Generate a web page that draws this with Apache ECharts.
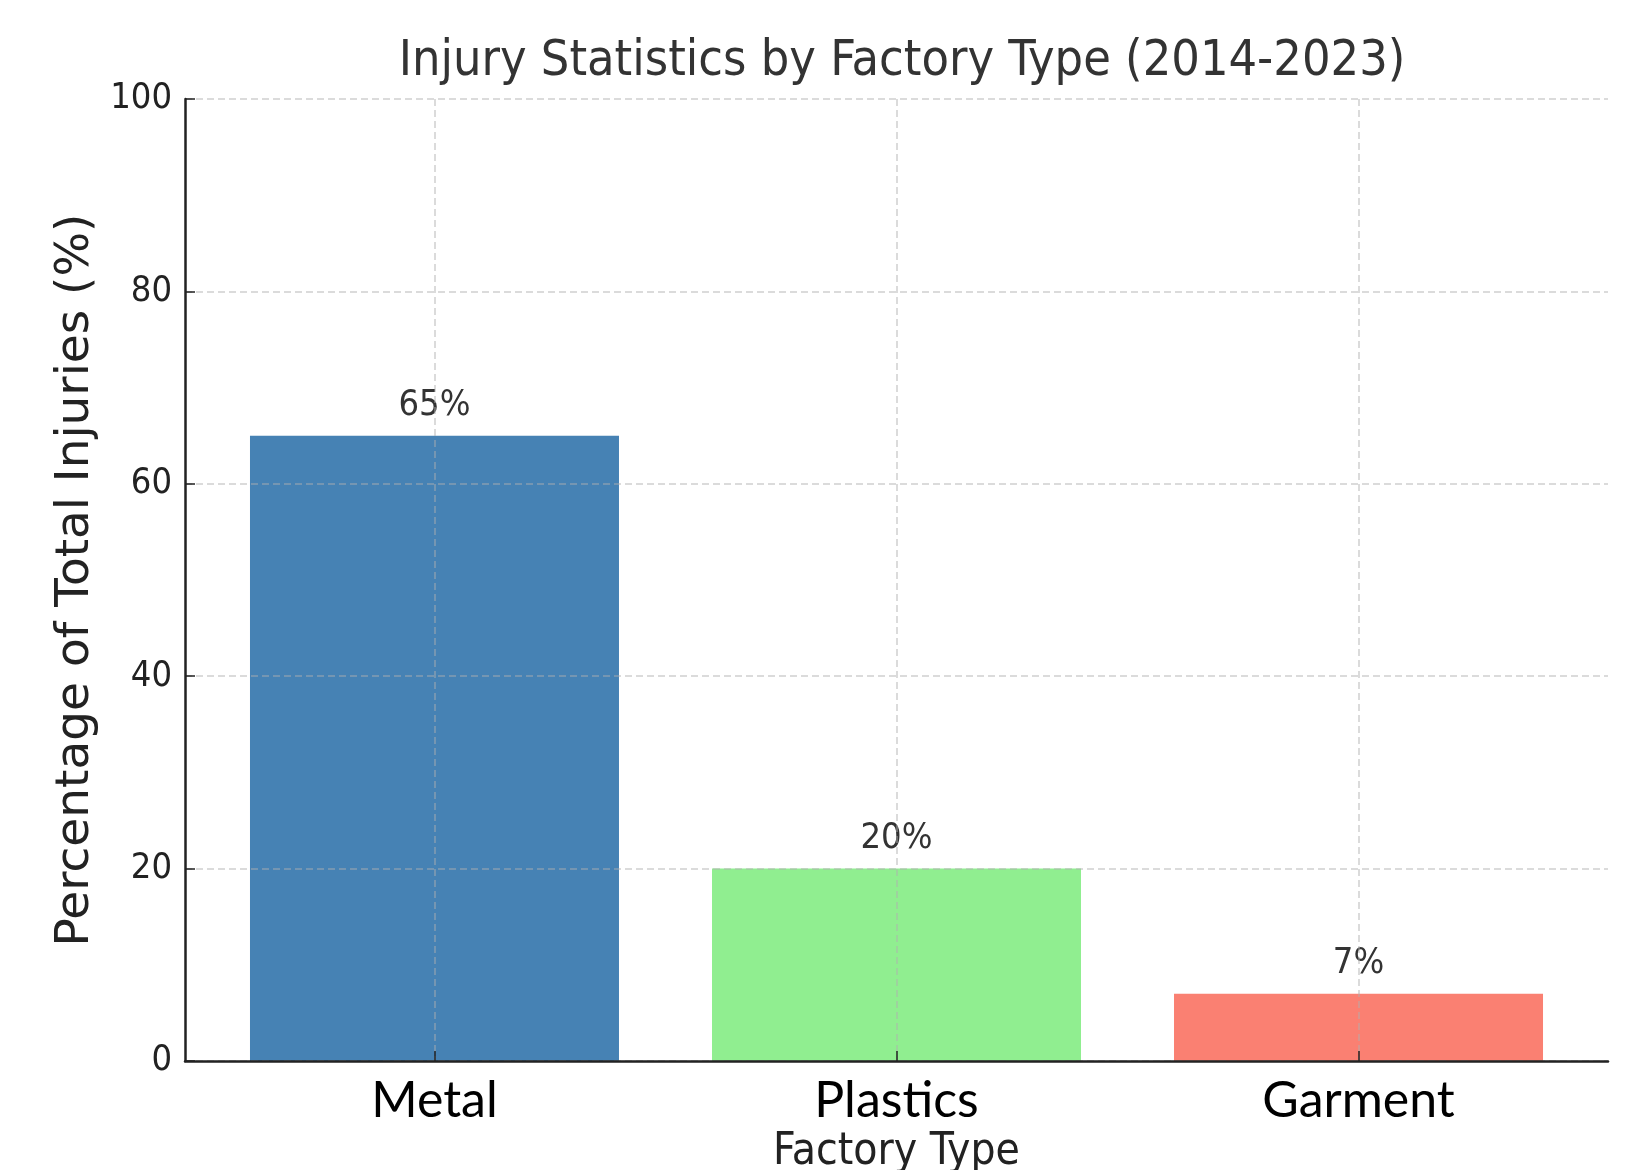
<!DOCTYPE html>
<html>
<head>
<meta charset="utf-8">
<script src="https://cdn.jsdelivr.net/npm/echarts@6/dist/echarts.min.js"></script>
<style>
  html, body { margin: 0; padding: 0; background: #fff; }
  #chart { width: 1627px; height: 1170px; }
</style>
</head>
<body>
<div id="chart"></div>
<script>
const factoryTypes = ['Metal', 'Plastics', 'Garment'];
const injuryShare = [65, 20, 7];
const barColors = ['#4682B4', '#90EE90', '#FA8072'];
const yTicks = [0, 20, 40, 60, 80, 100];

const gridLine = {
    show: true,
    lineStyle: { color: 'rgba(175,175,175,0.6)', width: 1.5, type: [7, 4] }
};

echarts.init(document.getElementById('chart'))
    .setOption({
        animation: false,
        title: {
            text: 'Injury Statistics by Factory Type (2014-2023)',
            left: 897,
            textAlign: 'center',
            top: 32,
            textStyle: {
                fontFamily: 'DejaVu Sans Condensed',
                fontWeight: 'normal',
                fontSize: 50,
                color: '#333'
            }
        },
        grid: {
            left: 185,
            right: 19,
            top: 99,
            bottom: 109,
            outerBoundsMode: 'none'
        },
        xAxis: {
            type: 'value',
            min: -0.54,
            max: 2.54,
            z: 3,
            name: 'Factory Type',
            nameLocation: 'middle',
            nameGap: 57,
            nameTextStyle: {
                fontFamily: 'DejaVu Sans Condensed',
                fontSize: 44,
                color: '#222'
            },
            axisLine: { onZero: false, lineStyle: { color: '#222', width: 2.5 } },
            axisTick: {
                inside: true,
                length: 10,
                customValues: [0, 1, 2],
                lineStyle: { color: '#222', width: 1.5 }
            },
            axisLabel: {
                customValues: [0, 1, 2],
                margin: 15,
                fontFamily: 'Lato',
                fontSize: 50,
                color: '#000',
                formatter: v => factoryTypes[Math.round(v)]
            },
            splitLine: gridLine
        },
        yAxis: {
            type: 'value',
            min: 0,
            max: 100,
            interval: 20,
            z: 3,
            name: 'Percentage of Total Injuries (%)',
            nameLocation: 'middle',
            nameGap: 81,
            nameTextStyle: {
                fontFamily: 'DejaVu Sans',
                fontSize: 47,
                color: '#222'
            },
            axisLine: { show: true, onZero: false, lineStyle: { color: '#222', width: 2.5 } },
            axisTick: {
                show: true,
                inside: true,
                length: 10,
                lineStyle: { color: '#222', width: 1.5 }
            },
            axisLabel: {
                margin: 13,
                fontFamily: 'DejaVu Sans Condensed',
                fontSize: 36,
                color: '#222',
                formatter: v => yTicks.includes(v) ? String(v) : ''
            },
            splitLine: gridLine
        },
        series: [{
            type: 'bar',
            barWidth: 369,
            z: 2,
            data: injuryShare.map((v, i) => ({
                value: [i, v],
                itemStyle: { color: barColors[i] }
            })),
            label: {
                show: true,
                position: 'top',
                distance: 12,
                fontFamily: 'DejaVu Sans Condensed',
                fontSize: 36,
                color: '#333',
                formatter: p => p.value[1] + '%'
            }
        }]
    });
</script>
</body>
</html>
